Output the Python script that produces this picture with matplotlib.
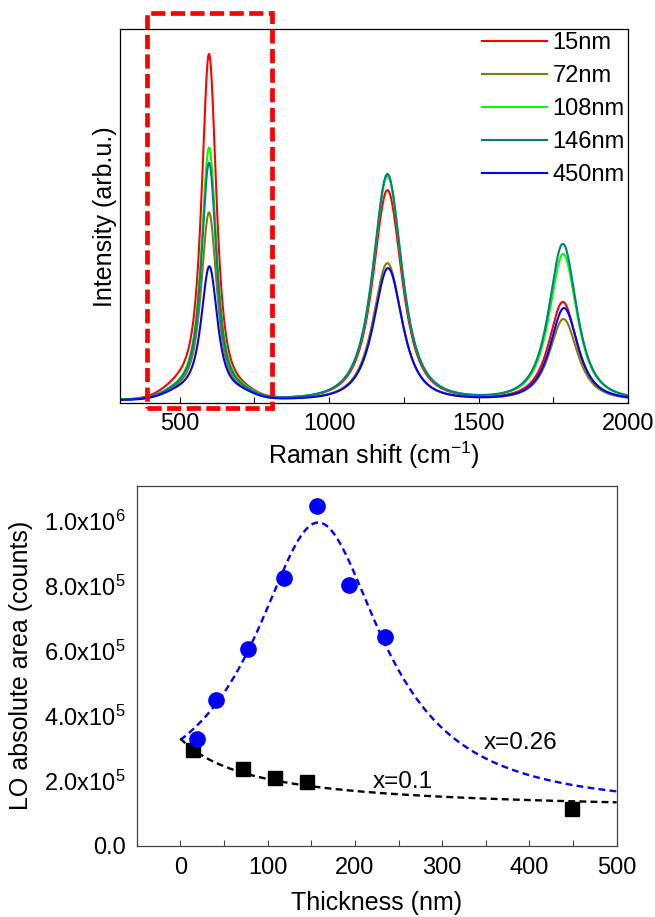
import numpy as np
import matplotlib
matplotlib.use("Agg")
import matplotlib.pyplot as plt
from matplotlib.patches import Rectangle
from matplotlib.transforms import blended_transform_factory
from matplotlib.ticker import MultipleLocator, FixedLocator, FuncFormatter

plt.rcParams['font.family'] = ['Liberation Sans', 'DejaVu Sans']
plt.rcParams['mathtext.fontset'] = 'custom'
plt.rcParams['mathtext.rm'] = 'Liberation Sans'
plt.rcParams['mathtext.it'] = 'Liberation Sans:italic'

# ---- top panel: Raman spectra, described by peaks ----
labels = ['15nm', '72nm', '108nm', '146nm', '450nm']
colors = ['#ff0000', '#808000', '#00ff00', '#008080', '#0000ff']

lo1_pos = [598, 598, 598, 598, 599]
lo1_hwhm = [29, 31, 30, 30, 32]
lo1_height = [340, 184, 248, 233, 130]
shoulder_height = [14, 8, 9, 9, 8]
tail_height = [8, 6, 8, 7, 7]

lo2_pos = [1195, 1195, 1195, 1195, 1197]
lo2_hwhm = [57, 57, 57, 57, 57]
lo2_height = [210, 137, 224, 226, 132]

lo3_pos = [1782, 1784, 1783, 1782, 1786]
lo3_hwhm = [55, 55, 55, 55, 55]
lo3_height = [98, 81, 146, 156, 92]

baseline = 3

# ---- bottom panel: LO area vs thickness ----
blue_x = [19, 41, 77, 119, 157, 193, 235]
blue_y = [3.27e5, 4.48e5, 6.05e5, 8.25e5, 1.046e6, 8.02e5, 6.43e5]
black_x = [15, 72, 108, 145, 449]
black_y = [2.94e5, 2.35e5, 2.09e5, 1.97e5, 1.12e5]

# fit parameters (x=0.26: lorentzian on offset, x=0.1: hyperbolic decay)
fit26 = dict(y0=1.1e5, A=8.85e5, xc=158, w=89.5)
fit10 = dict(a=1.0e5, b=1.93e7, c=84)


def peak(x, c, hwhm, h, p=1.5):
    w = hwhm / np.sqrt(2 ** (1 / p) - 1)
    return h / (1 + ((x - c) / w) ** 2) ** p


def gauss(x, c, s, h):
    return h * np.exp(-0.5 * ((x - c) / s) ** 2)


fig = plt.figure(figsize=(6.55, 9.17), dpi=100)

ax1 = fig.add_axes([120 / 655, 1 - 403.3 / 917, 508 / 655, 374 / 917])
shift = np.linspace(300, 2000, 1701)
for i in range(len(labels)):
    y = (baseline
         + peak(shift, lo1_pos[i], lo1_hwhm[i], lo1_height[i])
         + gauss(shift, 510, 60, shoulder_height[i])
         + gauss(shift, 695, 50, tail_height[i])
         + peak(shift, lo2_pos[i], lo2_hwhm[i], lo2_height[i])
         + peak(shift, lo3_pos[i], lo3_hwhm[i], lo3_height[i]))
    ax1.plot(shift, y, color=colors[i], lw=1.5, label=labels[i])

ax1.set_xlim(300, 2000)
ax1.set_ylim(0, 374)
ax1.xaxis.set_major_locator(FixedLocator([500, 1000, 1500, 2000]))
ax1.xaxis.set_minor_locator(MultipleLocator(250))
ax1.tick_params(axis='x', which='both', direction='in', length=4, width=0.8,
                labelsize=17, pad=7)
ax1.set_yticks([])
ax1.set_xlabel('Raman shift (cm$^{-1}$)', fontsize=18, labelpad=3)
ax1.set_ylabel('Intensity (arb.u.)', fontsize=18, labelpad=2)
for s in ax1.spines.values():
    s.set_linewidth(0.9)

leg = ax1.legend(loc='upper left', bbox_to_anchor=(0.712, 0.993), frameon=False,
                 fontsize=17, handlelength=2.75, handletextpad=0.25,
                 labelspacing=0.47, borderaxespad=0, borderpad=0)

box_x = [390, 808]
box_y = [-0.0126, 1.0436]
tr = blended_transform_factory(ax1.transData, ax1.transAxes)
ax1.add_patch(Rectangle((box_x[0], box_y[0]), box_x[1] - box_x[0], box_y[1] - box_y[0],
                        transform=tr, fill=False, ec='#ff0000', lw=3.4,
                        linestyle=(0, (3, 1.15)), clip_on=False, zorder=5))

# bottom panel
ax2 = fig.add_axes([136.7 / 655, 1 - 845.5 / 917, 480 / 655, 360 / 917])
xf = np.linspace(0, 500, 501)
y26 = fit26['y0'] + fit26['A'] / (1 + ((xf - fit26['xc']) / fit26['w']) ** 2)
y10 = fit10['a'] + fit10['b'] / (xf + fit10['c'])
ax2.plot(xf, y26, color='#0000ff', lw=1.7, linestyle=(0, (2.9, 1.8)))
ax2.plot(xf, y10, color='black', lw=1.7, linestyle=(0, (2.9, 1.8)))
ax2.plot(black_x, black_y, 's', color='black', ms=9.5, zorder=3)
ax2.plot(blue_x, blue_y, 'o', color='#0000ff', ms=11, zorder=3)

ax2.text(348, 3.15e5, 'x=0.26', fontsize=17.5, va='center', ha='left')
ax2.text(221, 1.97e5, 'x=0.1', fontsize=17.5, va='center', ha='left')

ax2.set_xlim(-50, 500)
ax2.set_ylim(0, 1.109e6)
ax2.xaxis.set_major_locator(FixedLocator([0, 100, 200, 300, 400, 500]))
ax2.xaxis.set_minor_locator(MultipleLocator(50))
ax2.yaxis.set_major_locator(FixedLocator([0, 2e5, 4e5, 6e5, 8e5, 1e6]))


def sci(v, pos):
    if v == 0:
        return '0.0'
    e = int(np.floor(np.log10(v)))
    return '%.1fx10$^{%d}$' % (v / 10 ** e, e)


ax2.yaxis.set_major_formatter(FuncFormatter(sci))
ax2.tick_params(axis='x', which='both', direction='in', length=4, width=0.8,
                labelsize=17, pad=8, color='#444444')
ax2.tick_params(axis='y', length=0, labelsize=17, pad=8)
ax2.set_xlabel('Thickness (nm)', fontsize=18, labelpad=9)
ax2.set_ylabel('LO absolute area (counts)', fontsize=18, labelpad=8)
for s in ax2.spines.values():
    s.set_linewidth(0.9)
    s.set_color('#444444')

fig.savefig('out.png', dpi=100)
